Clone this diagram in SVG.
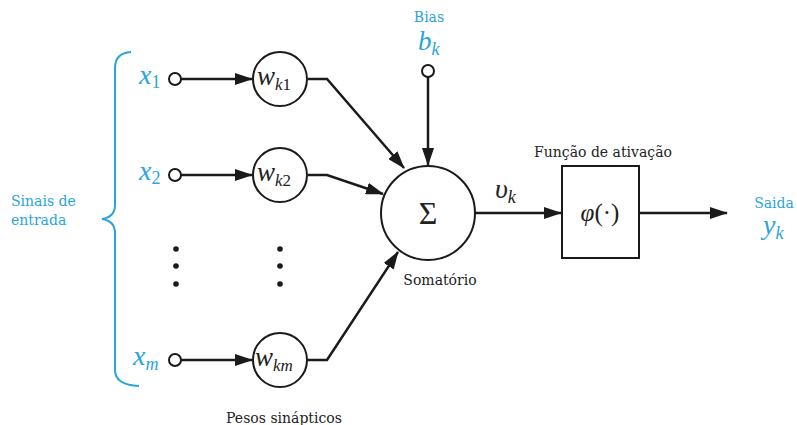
<svg xmlns="http://www.w3.org/2000/svg" width="797" height="425" viewBox="0 0 797 425">
<style>
.ln{fill:none;stroke:#1a1a1a;stroke-width:2.5}
.nd{fill:#fff;stroke:#1a1a1a;stroke-width:2}
.term{fill:#fff;stroke:#1a1a1a;stroke-width:2}
.lbl{font-family:'DejaVu Serif','Liberation Serif','Times New Roman',serif;font-size:14px;fill:#222}
.blbl{font-family:'DejaVu Serif','Liberation Serif','Times New Roman',serif;font-size:14px;fill:#2aa5dc}
.m{font-family:'Liberation Serif','Times New Roman','DejaVu Serif',serif;font-style:italic;fill:#222}
.bm{font-family:'Liberation Serif','Times New Roman','DejaVu Serif',serif;font-style:italic;fill:#2aa5dc}
.up{font-style:normal}
.sig{font-family:'Liberation Serif','Times New Roman','DejaVu Serif',serif;fill:#222}
</style>
<defs>
<marker id="ah" markerUnits="userSpaceOnUse" markerWidth="18" markerHeight="12" refX="17" refY="6" orient="auto">
<path d="M0,0 L18,6 L0,12 Z" fill="#1a1a1a"/>
</marker>
</defs>
<rect width="797" height="425" fill="#fff"/>

<g id="bracket">
<path d="M131,52 Q115,53 115,68 L115,205 Q115,217 102,219 Q115,221 115,233 L115,370 Q115,385 139,386" fill="none" stroke="#2aa5dc" stroke-width="2"/>
<text class="blbl" x="11" y="206">Sinais de</text>
<text class="blbl" x="11" y="225">entrada</text>
</g>

<g id="connectors">
<line class="ln" x1="181" y1="79" x2="252" y2="79" marker-end="url(#ah)"/>
<line class="ln" x1="181" y1="175" x2="252" y2="175" marker-end="url(#ah)"/>
<line class="ln" x1="181" y1="360" x2="252" y2="360" marker-end="url(#ah)"/>
<polyline class="ln" points="308,79 327,79 404,168" marker-end="url(#ah)"/>
<polyline class="ln" points="308,175 327,175 383,194" marker-end="url(#ah)"/>
<polyline class="ln" points="307,360 327,360 398,252" marker-end="url(#ah)"/>
<line class="ln" x1="428" y1="77" x2="428" y2="165" marker-end="url(#ah)"/>
<line class="ln" x1="475" y1="213" x2="561" y2="213" marker-end="url(#ah)"/>
<line class="ln" x1="639" y1="213" x2="727" y2="213" marker-end="url(#ah)"/>
</g>

<g id="x1">
<text class="bm" x="139" y="84" font-size="28">x<tspan class="up" font-size="18" dy="4">1</tspan></text>
<circle class="term" cx="175" cy="79" r="6"/>
</g>
<g id="x2">
<text class="bm" x="139" y="180" font-size="28">x<tspan class="up" font-size="18" dy="4">2</tspan></text>
<circle class="term" cx="175" cy="175" r="6"/>
</g>
<g id="xm">
<text class="bm" x="133" y="365" font-size="28">x<tspan font-size="18" dy="5">m</tspan></text>
<circle class="term" cx="175" cy="360" r="6"/>
</g>

<g id="dots">
<circle cx="176" cy="249" r="2.8" fill="#1a1a1a"/>
<circle cx="176" cy="266" r="2.8" fill="#1a1a1a"/>
<circle cx="176" cy="284" r="2.8" fill="#1a1a1a"/>
<circle cx="280" cy="249" r="2.8" fill="#1a1a1a"/>
<circle cx="280" cy="266" r="2.8" fill="#1a1a1a"/>
<circle cx="280" cy="284" r="2.8" fill="#1a1a1a"/>
</g>

<g id="wk1">
<circle class="nd" cx="280" cy="79" r="27"/>
<text class="m" x="257" y="85" font-size="27">w<tspan font-size="17" dy="5">k</tspan><tspan class="up" font-size="17">1</tspan></text>
</g>
<g id="wk2">
<circle class="nd" cx="280" cy="175" r="27"/>
<text class="m" x="257" y="181" font-size="27">w<tspan font-size="17" dy="5">k</tspan><tspan class="up" font-size="17">2</tspan></text>
</g>
<g id="wkm">
<circle class="nd" cx="280" cy="360" r="27"/>
<text class="m" x="255" y="366" font-size="27">w<tspan font-size="17" dy="5">km</tspan></text>
</g>
<text class="lbl" x="284" y="423" text-anchor="middle">Pesos sinápticos</text>

<g id="bias">
<text class="blbl" x="429" y="22" text-anchor="middle">Bias</text>
<text class="bm" x="418" y="50" font-size="27">b<tspan font-size="18" dy="5">k</tspan></text>
<circle class="term" cx="428" cy="71" r="6"/>
</g>

<g id="sum">
<circle class="nd" cx="428" cy="213" r="47"/>
<text class="sig" x="428" y="224" text-anchor="middle" font-size="32">Σ</text>
<text class="lbl" x="440" y="285" text-anchor="middle">Somatório</text>
</g>

<text class="m" x="495" y="198" font-size="28">υ<tspan font-size="18" dy="5">k</tspan></text>

<g id="activation">
<text class="lbl" x="603" y="157" text-anchor="middle">Função de ativação</text>
<rect class="nd" x="562" y="166" width="77" height="92"/>
<text class="m" x="600" y="221" text-anchor="middle" font-size="25">φ<tspan class="up">(·)</tspan></text>
</g>

<g id="output">
<text class="blbl" x="774" y="208" text-anchor="middle">Saida</text>
<text class="bm" x="763" y="234" font-size="28">y<tspan font-size="18" dy="5">k</tspan></text>
</g>
</svg>
